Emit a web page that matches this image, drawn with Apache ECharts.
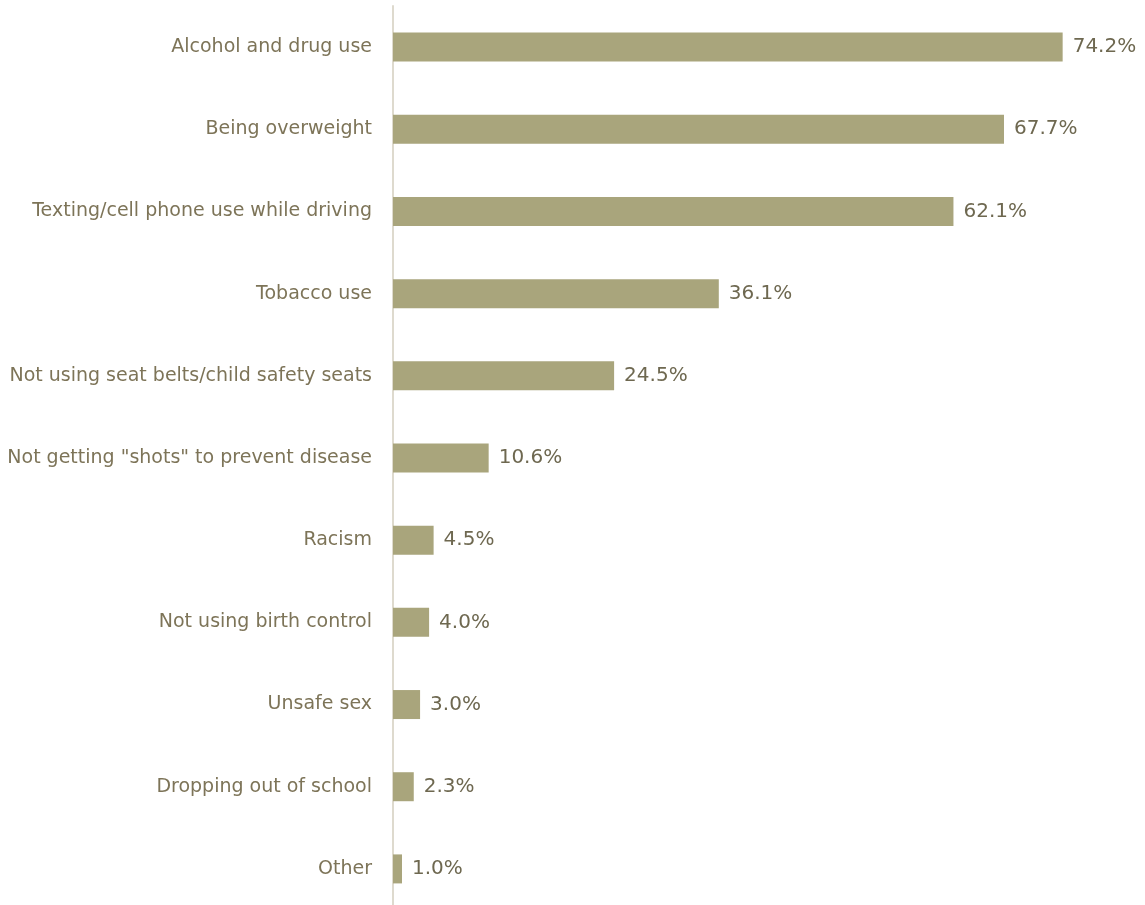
<!DOCTYPE html>
<html>
<head>
<meta charset="utf-8">
<title>Health risk concerns</title>
<script src="https://cdn.jsdelivr.net/npm/echarts@6/dist/echarts.min.js"></script>
<style>
  html, body { margin: 0; padding: 0; background: #ffffff; overflow: hidden; }
  /* the last band runs a few pixels past the bottom edge of the window */
  #chart { width: 1145px; height: 911px; }
</style>
</head>
<body>
<div id="chart"></div>
<script>
// Categories listed top to bottom
const categories = [
  'Alcohol and drug use',
  'Being overweight',
  'Texting/cell phone use while driving',
  'Tobacco use',
  'Not using seat belts/child safety seats',
  'Not getting "shots" to prevent disease',
  'Racism',
  'Not using birth control',
  'Unsafe sex',
  'Dropping out of school',
  'Other'
];
// Percent of respondents for each category
const values = [74.2, 67.7, 62.1, 36.1, 24.5, 10.6, 4.5, 4.0, 3.0, 2.3, 1.0];

const FONT = '"DejaVu Sans", Verdana, sans-serif';

const chart = echarts.init(document.getElementById('chart'), null, { renderer: 'canvas' });

chart.setOption({
  animation: false,
  backgroundColor: '#ffffff',
  grid: { left: 393, right: 30, top: 6, bottom: 1, containLabel: false },
  xAxis: {
    type: 'value',
    min: 0,
    max: 80,
    show: false
  },
  yAxis: {
    type: 'category',
    inverse: true,
    data: categories,
    axisLine: { show: true, lineStyle: { color: '#dedace', width: 2 } },
    axisTick: { show: false },
    axisLabel: {
      margin: 21,
      color: '#7d7458',
      fontFamily: FONT,
      fontSize: 19,
      padding: [3, 0, 0, 0]
    }
  },
  series: [{
    type: 'bar',
    data: values,
    barWidth: 29,
    itemStyle: { color: '#a9a57c' },
    label: {
      show: true,
      position: 'right',
      distance: 10,
      formatter: p => p.value.toFixed(1) + '%',
      color: '#6e6850',
      fontFamily: FONT,
      fontSize: 20,
      padding: [3, 0, 0, 0]
    }
  }]
});
</script>
</body>
</html>
